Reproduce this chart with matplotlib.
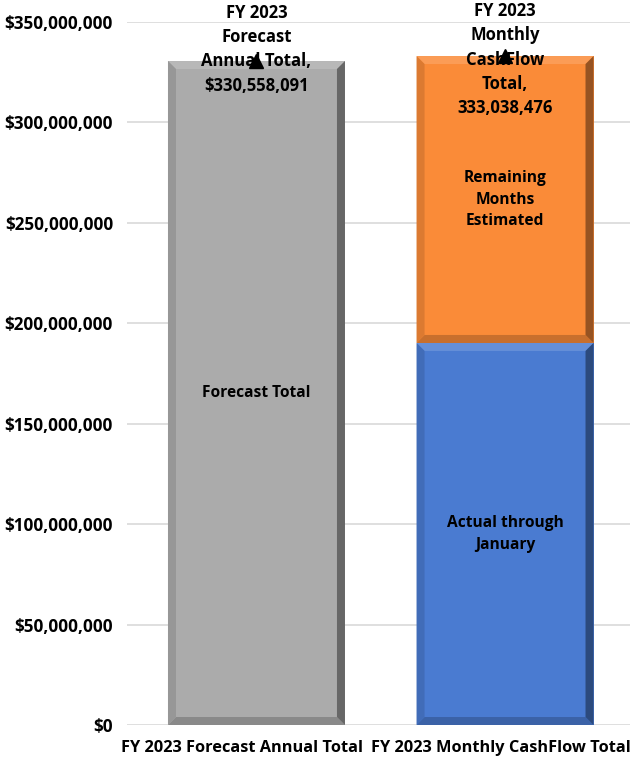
import matplotlib.pyplot as plt
import matplotlib.transforms as mtransforms
from matplotlib.patches import Polygon
from matplotlib.ticker import FuncFormatter

plt.rcParams['font.family'] = ['Open Sans', 'DejaVu Sans']
plt.rcParams['font.weight'] = 'bold'

categories = ['FY 2023 Forecast Annual Total', 'FY 2023 Monthly CashFlow Total']
forecast_total = [330558091, 0]
actual = [0, 190200000]
remaining = [0, 333038476 - 190200000]
totals = [330558091, 333038476]
total_labels = ['FY 2023\nForecast\nAnnual Total,\n$330,558,091',
                'FY 2023\nMonthly\nCashFlow\nTotal,\n333,038,476']


def shade(c, f):
    # f > 0 lighten, f < 0 darken
    if f >= 0:
        return tuple(x + (1 - x) * f for x in c)
    return tuple(x * (1 + f) for x in c)


def add_bevel(ax, x0, x1, y0, y1, color, bw=8):
    """Draw a bevelled edge of roughly bw pixels around a bar."""
    inv = ax.transData.inverted()
    px0, py0 = ax.transData.transform((x0, y0))
    px1, py1 = ax.transData.transform((x1, y1))
    pts = {
        'top': [(px0, py1), (px1, py1), (px1 - bw, py1 - bw), (px0 + bw, py1 - bw)],
        'bottom': [(px0, py0), (px1, py0), (px1 - bw, py0 + bw), (px0 + bw, py0 + bw)],
        'left': [(px0, py0), (px0, py1), (px0 + bw, py1 - bw), (px0 + bw, py0 + bw)],
        'right': [(px1, py0), (px1, py1), (px1 - bw, py1 - bw), (px1 - bw, py0 + bw)],
    }
    shades = {'top': 0.15, 'bottom': -0.2, 'left': -0.12, 'right': -0.4}
    for side, p in pts.items():
        data_pts = inv.transform(p)
        ax.add_patch(Polygon(data_pts, closed=True, facecolor=shade(color, shades[side]),
                             edgecolor='none', zorder=3))


fig = plt.figure(figsize=(6.39, 7.58), dpi=100)
ax = fig.add_axes([0.1987, 0.0435, 0.7873, 0.9275])
ax.set_xlim(-0.521, 1.503)
ax.set_ylim(0, 350000000)

x = range(len(categories))
width = 0.712
gray = (0.671, 0.671, 0.671)
blue = (0.29, 0.482, 0.82)
orange = (0.98, 0.545, 0.22)

ax.bar(x, forecast_total, width, color=gray, zorder=2)
ax.bar(x, actual, width, color=blue, zorder=2)
ax.bar(x, remaining, width, bottom=actual, color=orange, zorder=2)

for i in x:
    x0, x1 = i - width / 2, i + width / 2
    if forecast_total[i] > 0:
        add_bevel(ax, x0, x1, 0, forecast_total[i], gray)
    if actual[i] > 0:
        add_bevel(ax, x0, x1, 0, actual[i], blue)
    if remaining[i] > 0:
        add_bevel(ax, x0, x1, actual[i], actual[i] + remaining[i], orange)

# triangle markers at the totals
ax.plot(list(x), totals, ls='none', marker='^', color='black', markersize=10, zorder=5)

fs = 12
fs_in = 11.2
fs_tick = 11.8
ls = 1.45
ax.annotate(total_labels[0], (0, totals[0]), xytext=(0, 8.5), textcoords='offset points',
            ha='center', va='center', fontsize=fs, fontweight='bold', zorder=6,
            linespacing=ls)
ax.annotate(total_labels[1], (1, totals[1]), xytext=(0, -2.5), textcoords='offset points',
            ha='center', va='center', fontsize=fs, fontweight='bold', zorder=6,
            linespacing=ls)

ax.text(0, forecast_total[0] / 2, 'Forecast Total', ha='center', va='center',
        fontsize=fs_in, fontweight='bold', zorder=6)
ax.text(1, actual[1] / 2, 'Actual through\nJanuary', ha='center', va='center',
        fontsize=fs_in, fontweight='bold', zorder=6, linespacing=ls)
ax.text(1, actual[1] + remaining[1] / 2, 'Remaining\nMonths\nEstimated', ha='center',
        va='center', fontsize=fs_in, fontweight='bold', zorder=6, linespacing=ls)

ax.set_yticks(range(0, 350000001, 50000000))
ax.yaxis.set_major_formatter(FuncFormatter(lambda v, p: '${:,.0f}'.format(v)))
ax.set_xticks(list(x))
ax.set_xticklabels(categories)
ax.tick_params(axis='both', length=0)
ax.tick_params(axis='y', pad=10, labelsize=12.3)
ax.tick_params(axis='x', pad=11, labelsize=fs_tick)
for lab in ax.get_xticklabels() + ax.get_yticklabels():
    lab.set_fontweight('bold')

# nudge category labels left so they don't collide (as in the original)
for lab, dx in zip(ax.get_xticklabels(), [-14, -4]):
    lab.set_transform(lab.get_transform() +
                      mtransforms.ScaledTranslation(dx / 100, 0, fig.dpi_scale_trans))

ax.grid(axis='y', color='#d9d9d9', linewidth=1.2, zorder=0)
ax.set_axisbelow(True)
for s in ax.spines.values():
    s.set_visible(False)

fig.savefig('out.png', dpi=100)
